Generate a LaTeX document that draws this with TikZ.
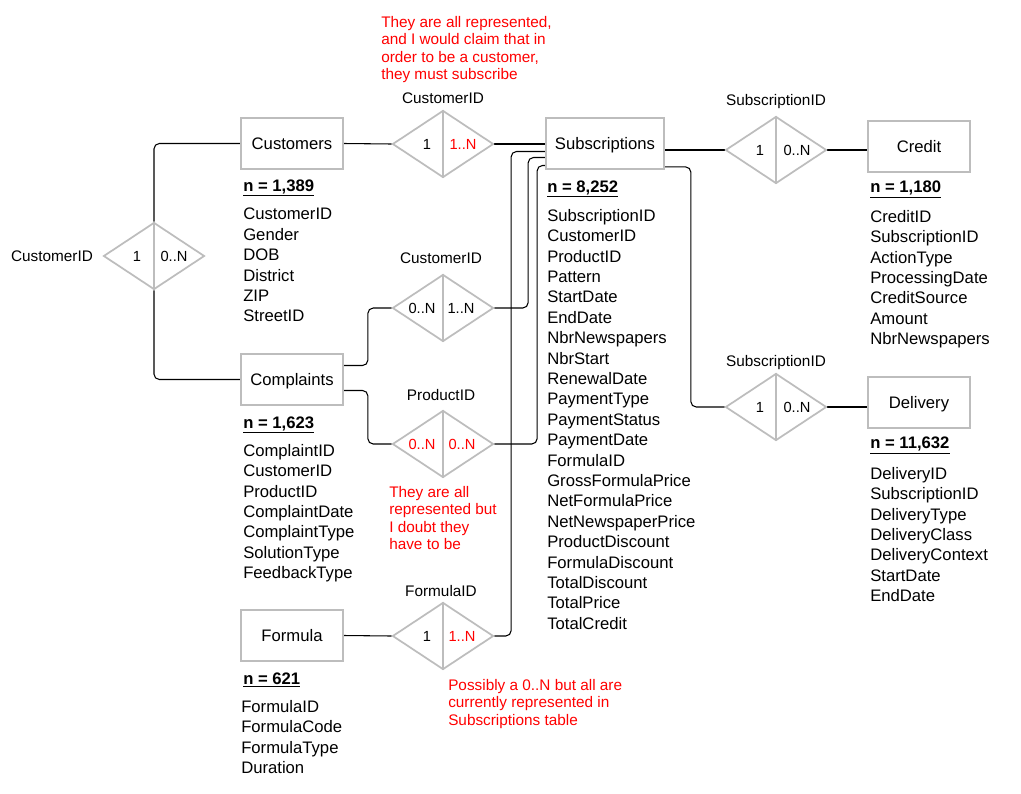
\documentclass[tikz,border=0pt]{standalone}
\usepackage{fontspec}
\setmainfont{Liberation Sans}
\usetikzlibrary{positioning,shapes.geometric,backgrounds}
\definecolor{erGray}{HTML}{BDBDBD}
\definecolor{erRed}{HTML}{FF0000}

\begin{document}
\begin{tikzpicture}[x=0.75pt,y=-0.75pt,
  every node/.style={font=\fontsize{12.5}{15.3}\selectfont},
  entity/.style={draw=erGray,line width=1.3pt,fill=white,minimum width=76.5pt,
                 minimum height=38.25pt,inner sep=0pt,text height=9pt,text depth=0pt},
  rel/.style={diamond,draw=erGray,line width=1.3pt,fill=white,minimum width=75.75pt,
              minimum height=50.25pt,inner sep=0pt},
  card/.style={font=\fontsize{11}{13}\selectfont,inner sep=0pt},
  rellabel/.style={font=\fontsize{11.5}{13.5}\selectfont,inner sep=0pt},
  count/.style={anchor=base west,inner sep=0pt,font=\fontsize{12.5}{15.3}\selectfont\bfseries},
  attrs/.style={anchor=north west,inner sep=0pt,align=left},
  note/.style={anchor=north west,inner sep=0pt,align=left,text=erRed,
               font=\fontsize{11.5}{13.1}\selectfont},
  conn/.style={draw=black,line width=0.8pt,rounded corners=4pt}]
  \useasboundingbox (0,0) rectangle (1021,793);

  % entities
  \node[entity] (cust) at (292,143.5) {Customers};
  \node[entity,minimum width=88.5pt] (subs) at (605,143.5) {Subscriptions};
  \node[entity] (credit) at (919,146.5) {Credit};
  \node[entity] (comp) at (292,379.5) {Complaints};
  \node[entity] (dlv) at (919,402.5) {Delivery};
  \node[entity] (form) at (292,635.5) {Formula};

  % relationships
  \node[rel] (cd) at (154,256) {};
  \node[rel] (cs) at (443,144) {};
  \node[rel] (crd) at (776,150) {};
  \node[rel] (ccd) at (443,308) {};
  \node[rel] (pd) at (443,444) {};
  \node[rel] (dld) at (776,407) {};
  \node[rel] (fd) at (443,636) {};
  \foreach \rl in {cd,cs,crd,ccd,pd,dld,fd}
    \draw[erGray,line width=1.3pt] (\rl.north) -- (\rl.south);

  \node[rellabel] at (52,256) {CustomerID};
  \node[rellabel] at (443,98) {CustomerID};
  \node[rellabel] at (776,102) {SubscriptionID};
  \node[rellabel] at (441,258) {CustomerID};
  \node[rellabel] at (441,395) {ProductID};
  \node[rellabel] at (776,363) {SubscriptionID};
  \node[rellabel] at (441,591) {FormulaID};

  % cardinalities
  \node[card] at ([shift={(-17,0)}]cd.center) {1};
  \node[card] at ([shift={(20,0)}]cd.center) {0..N};
  \node[card] at ([shift={(-16,0)}]cs.center) {1};
  \node[card,text=erRed] at ([shift={(20,0)}]cs.center) {1..N};
  \node[card] at ([shift={(-16,0)}]crd.center) {1};
  \node[card] at ([shift={(21,0)}]crd.center) {0..N};
  \node[card] at ([shift={(-21,0)}]ccd.center) {0..N};
  \node[card] at ([shift={(18,0)}]ccd.center) {1..N};
  \node[card,text=erRed] at ([shift={(-21,0)}]pd.center) {0..N};
  \node[card,text=erRed] at ([shift={(19,0)}]pd.center) {0..N};
  \node[card] at ([shift={(-16,0)}]dld.center) {1};
  \node[card] at ([shift={(21,0)}]dld.center) {0..N};
  \node[card] at ([shift={(-16,0)}]fd.center) {1};
  \node[card,text=erRed] at ([shift={(19,0)}]fd.center) {1..N};

  % counts and attributes
  \node[count] (custn) at (243,191) {\underline{n = 1,389}};
  \node[attrs] (custa) at (243,208) {CustomerID\\Gender\\DOB\\District\\ZIP\\StreetID};
  \node[count] (subsn) at (547,192) {\underline{n = 8,252}};
  \node[attrs] (subsa) at (547,209) {SubscriptionID\\CustomerID\\ProductID\\Pattern\\StartDate\\
    EndDate\\NbrNewspapers\\NbrStart\\RenewalDate\\PaymentType\\PaymentStatus\\PaymentDate\\
    FormulaID\\GrossFormulaPrice\\NetFormulaPrice\\NetNewspaperPrice\\ProductDiscount\\
    FormulaDiscount\\TotalDiscount\\TotalPrice\\TotalCredit};
  \node[count] (credn) at (870,192.5) {\underline{n = 1,180}};
  \node[attrs] (creda) at (870,210) {CreditID\\SubscriptionID\\ActionType\\ProcessingDate\\
    CreditSource\\Amount\\NbrNewspapers};
  \node[count] (compn) at (243,428) {\underline{n = 1,623}};
  \node[attrs] (compa) at (243,444) {ComplaintID\\CustomerID\\ProductID\\ComplaintDate\\
    ComplaintType\\SolutionType\\FeedbackType};
  \node[count] (dlvn) at (870,448.5) {\underline{n = 11,632}};
  \node[attrs] (dlva) at (870,467) {DeliveryID\\SubscriptionID\\DeliveryType\\DeliveryClass\\
    DeliveryContext\\StartDate\\EndDate};
  \node[count] (formn) at (243,684.5) {\underline{n = 621}};
  \node[attrs] (forma) at (241,700) {FormulaID\\FormulaCode\\FormulaType\\Duration};

  % remarks
  \node[note] (noteA) at (381,16) {They are all represented,\\and I would claim that in\\
    order to be a customer,\\they must subscribe};
  \node[note] (noteB) at (389,486) {They are all\\represented but\\I doubt they\\have to be};
  \node[note] (noteC) at (448,679) {Possibly a 0..N but all are\\currently represented in\\
    Subscriptions table};

  % connectors
  \begin{scope}[on background layer]
    \draw[conn] (cust.west) -| (cd.north);
    \draw[conn] (cd.south) |- (comp.west);
    \draw[conn] (cust.east) -- (cs.west);
    \draw[conn] (cs.east) -- (cs.east -| subs.west);
    \draw[conn] (subs.east |- crd.west) -- (crd.west);
    \draw[conn] (crd.east) -- (crd.east -| credit.west);
    \draw[conn] ([yshift=2.25pt]subs.south east) -- ++(19.5pt,0) |- (dld.west);
    \draw[conn] (dld.east) -- (dld.east -| dlv.west);
    \draw[conn] ([yshift=10.5pt]comp.east) -- ++(18pt,0) |- (ccd.west);
    \draw[conn] ([yshift=-8.25pt]comp.east) -- ++(18pt,0) |- (pd.west);
    \draw[conn] (ccd.east) -| ([shift={(-17,14)}]subs.west) -- ([shift={(0,14)}]subs.west);
    \draw[conn] (pd.east) -| ([shift={(-8,22)}]subs.west) -- ([shift={(0,22)}]subs.west);
    \draw[conn] (fd.east) -| ([shift={(-34,8)}]subs.west) -- ([shift={(0,8)}]subs.west);
    \draw[conn] (form.east) -- (fd.west);
  \end{scope}
\end{tikzpicture}
\end{document}
